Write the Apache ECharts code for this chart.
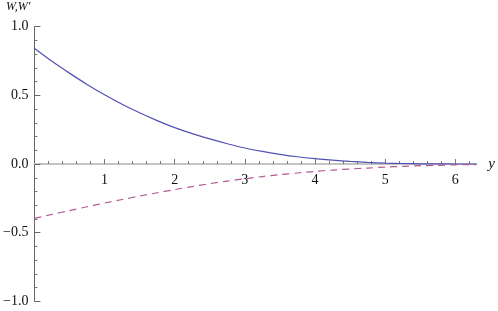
<!DOCTYPE html>
<html><head><meta charset="utf-8">
<script src="https://cdn.jsdelivr.net/npm/echarts@6/dist/echarts.min.js"></script>
<style>html,body{margin:0;padding:0;background:#fff}#c{width:498px;height:311px}</style>
</head><body><div id="c"></div>
<script>
var xs = [0,0.25,0.5,0.75,1,1.25,1.5,1.75,2,2.25,2.5,2.75,3,3.25,3.5,3.75,4,4.25,4.5,4.75,5,5.25,5.5,5.75,6,6.3];
var W  = [0.843,0.748,0.662,0.580,0.505,0.436,0.373,0.316,0.265,0.221,0.183,0.148,0.117,0.092,0.071,0.053,0.039,0.028,0.019,0.012,0.007,0.004,0.002,0.001,0.0005,0.0002];
var Wp = [-0.396,-0.367,-0.339,-0.311,-0.284,-0.258,-0.233,-0.209,-0.186,-0.164,-0.143,-0.124,-0.107,-0.091,-0.077,-0.065,-0.054,-0.044,-0.036,-0.029,-0.022,-0.017,-0.012,-0.009,-0.006,-0.004];
var xMajor = [1,2,3,4,5,6];
var xMinor = [];
for (var t = 0.2; t < 6.3; t += 0.2) { var r = Math.round(t*10)/10; if (Math.abs(r - Math.round(r)) > 1e-6) xMinor.push(r); }
var axisNames = ['W,W\u2032', 'y'];

var font = 'Liberation Serif';
var gridTop = 26.7, gridBottom = 9.6, H = 311;
var zeroOffset = -(H - gridTop - gridBottom) / 2;
function pairs(a, b){ return a.map(function(v,i){return [v,b[i]];}); }
var chart = echarts.init(document.getElementById('c'), null, {renderer:'canvas'});
chart.setOption({
  animation:false,
  textStyle:{fontFamily:font},
  grid:{left:33.5, right:19.7, top:gridTop, bottom:gridBottom, containLabel:false},
  xAxis:[{
    type:'value', min:0, max:6.3, position:'bottom', offset:zeroOffset,
    name: axisNames[1], nameLocation:'end', nameGap:12,
    nameTextStyle:{fontFamily:font, fontStyle:'italic', fontSize:15, color:'#111', verticalAlign:'middle', padding:[4,0,0,0]},
    axisLine:{onZero:false, lineStyle:{color:'#c4c4c4', width:2}},
    axisTick:{show:true, inside:true, length:5, customValues:xMajor, lineStyle:{color:'#777', width:1}},
    axisLabel:{customValues:xMajor, margin:9, fontFamily:font, fontSize:14, color:'#111'},
    splitLine:{show:false}
  },{
    type:'value', min:0, max:6.3, position:'bottom', offset:zeroOffset,
    axisLine:{onZero:false, show:false},
    axisTick:{show:true, inside:true, length:3, customValues:xMinor, lineStyle:{color:'#777', width:1}},
    axisLabel:{show:false},
    splitLine:{show:false}
  }],
  yAxis:{
    type:'value', min:-1, max:1, interval:0.5,
    name: axisNames[0], nameLocation:'end', nameGap:14,
    nameTextStyle:{fontFamily:font, fontStyle:'italic', fontSize:12, color:'#111', align:'right', padding:[0,4,0,0]},
    axisLine:{show:true, onZero:false, lineStyle:{color:'#666', width:1}},
    axisTick:{show:true, inside:true, length:6, lineStyle:{color:'#666'}},
    minorTick:{show:true, splitNumber:5, length:3, lineStyle:{color:'#777'}},
    axisLabel:{margin:6, fontFamily:font, fontSize:14, color:'#111',
      formatter:function(v){ return (v<0?'\u2212':'') + Math.abs(v).toFixed(1); }},
    splitLine:{show:false}
  },
  series:[{
    type:'line', xAxisIndex:0, data:pairs(xs,W), smooth:0.3, showSymbol:false,
    lineStyle:{color:'#5252b4', width:1.2}
  },{
    type:'line', xAxisIndex:0, data:pairs(xs,Wp), smooth:0.3, showSymbol:false,
    lineStyle:{color:'#b25a92', width:1.2, type:[7,5]}
  }]
});
</script></body></html>
